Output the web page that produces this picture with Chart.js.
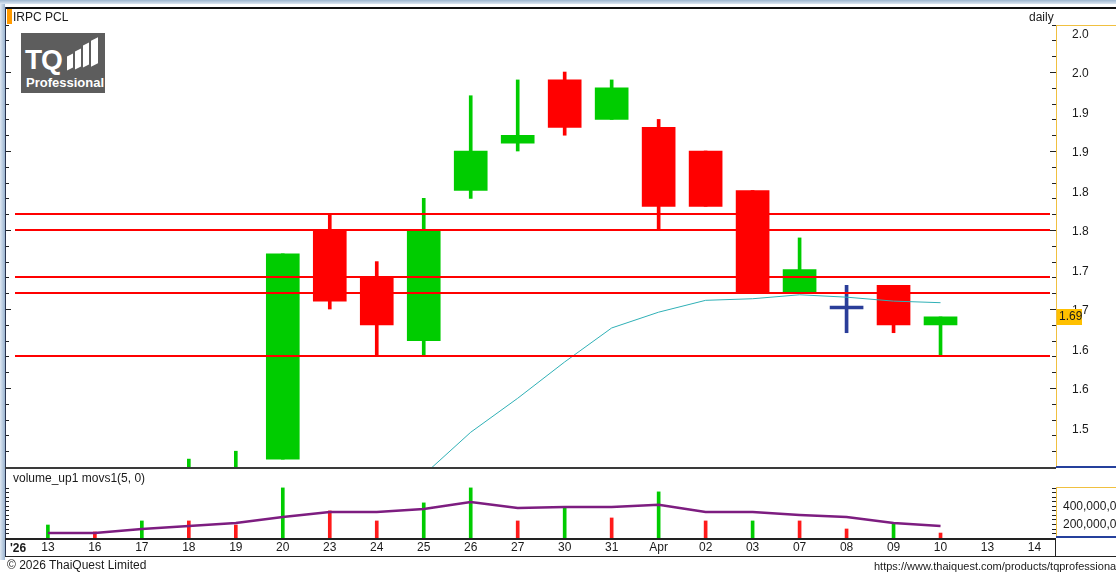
<!DOCTYPE html>
<html>
<head>
<meta charset="utf-8">
<script src="https://cdn.jsdelivr.net/npm/chart.js@4/dist/chart.umd.min.js"></script>
<style>
  body { margin: 0; width: 1116px; height: 573px; overflow: hidden; background: #fff; position: relative;
         font-family: "Liberation Sans", Arial, sans-serif; font-size: 12px; color: #1a1a1a; }
  .abs { position: absolute; }
  canvas { position: absolute; left: 0; }
  .txt { position: absolute; white-space: nowrap; line-height: 14px; }
  #logo { left: 21px; top: 33px; width: 84px; height: 60px; background: #5d5d5d; z-index: 5; }
  #logo .tq { position: absolute; left: 4px; top: 13px; font: bold 28px "Liberation Sans", Arial, sans-serif; color: #fff; letter-spacing: -1px; line-height: 28px; }
  #logo .pro { position: absolute; left: 5px; top: 43px; font: bold 13px "Liberation Sans", Arial, sans-serif; color: #fff; line-height: 14px; }
  #logo .bar { position: absolute; background: #fff; transform: skewY(-25deg); }
</style>
</head>
<body>
<canvas id="vol" width="1116" height="87" style="top:469px"></canvas>
<canvas id="price" width="1116" height="476" style="top:0"></canvas>

<!-- window frame -->
<div class="abs" style="left:0;top:0;width:1116px;height:4px;background:linear-gradient(#9db6cf,#dde7f1)"></div>
<div class="abs" style="left:0;top:4px;width:5px;height:556px;background:linear-gradient(to right,#dfe8f2,#9ab4d0)"></div>
<div class="abs" style="left:5px;top:7px;width:1111px;height:2px;background:#111"></div>
<div class="abs" style="left:5px;top:7px;width:1px;height:550px;background:#2a3550"></div>

<div class="abs" style="left:7px;top:9px;width:5px;height:15px;background:#ff9a00"></div>
<div class="txt" style="left:13px;top:10px">IRPC PCL</div>
<div class="txt" style="left:1029px;top:10px">daily</div>

<div id="logo" class="abs">
  <div class="tq">TQ</div>
  <div class="bar" style="left:46px;top:22px;width:6px;height:14px"></div>
  <div class="bar" style="left:54px;top:17px;width:6px;height:18px"></div>
  <div class="bar" style="left:62px;top:11px;width:6px;height:22px"></div>
  <div class="bar" style="left:70px;top:6px;width:7px;height:26px"></div>
  <div class="pro">Professional</div>
</div>

<!-- axis boxes and pane separators -->
<div class="abs" style="left:1056px;top:25px;width:60px;height:442px;border-left:1px solid #f0c040;border-top:1px solid #f0c040"></div>
<div class="abs" style="left:1056px;top:466px;width:60px;height:2px;background:#25409c"></div>
<div class="abs" style="left:5px;top:467px;width:1051px;height:2px;background:#3a3a3a"></div>
<div class="txt" style="left:13px;top:471px">volume_up1 movs1(5, 0)</div>
<div class="abs" style="left:1056px;top:487px;width:60px;height:50px;border-left:1px solid #f0c040;border-top:1px solid #f0c040"></div>
<div class="abs" style="left:1056px;top:536px;width:60px;height:2px;background:#25409c"></div>
<div class="abs" style="left:5px;top:538px;width:1051px;height:2px;background:#222"></div>
<div class="abs" style="left:1055px;top:538px;width:1px;height:18px;background:#222"></div>
<div class="abs" style="left:5px;top:556px;width:1111px;height:1px;background:#222"></div>
<div class="txt" style="left:10px;top:541px;font-weight:bold">'26</div>

<div class="txt" style="left:7px;top:558px">© 2026 ThaiQuest Limited</div>
<div class="txt" style="left:874px;top:559px;font-size:11px">https://www.thaiquest.com/products/tqprofessional</div>

<script>
// categories (trading days, Mar - Apr 2026)
const dates = ['13', '16', '17', '18', '19', '20', '23', '24', '25', '26', '27', '30', '31', 'Apr', '02', '03', '07', '08', '09', '10', '13', '14'];

// daily OHLC
const opens  = [1.45, 1.46, 1.45, 1.46, 1.47, 1.51, 1.80, 1.74, 1.66, 1.85, 1.91, 1.99, 1.94, 1.93, 1.90, 1.85, 1.72, 1.70, 1.73, 1.68];
const highs  = [1.47, 1.47, 1.48, 1.51, 1.52, 1.77, 1.82, 1.76, 1.84, 1.97, 1.99, 2.00, 1.99, 1.94, 1.90, 1.85, 1.79, 1.73, 1.73, 1.69];
const lows   = [1.44, 1.44, 1.45, 1.45, 1.46, 1.51, 1.70, 1.64, 1.64, 1.84, 1.90, 1.92, 1.94, 1.80, 1.83, 1.72, 1.72, 1.67, 1.67, 1.64];
const closes = [1.46, 1.45, 1.47, 1.48, 1.49, 1.77, 1.71, 1.68, 1.80, 1.90, 1.92, 1.93, 1.98, 1.83, 1.83, 1.72, 1.75, 1.70, 1.68, 1.69];

// moving average of price (cyan), starts at index 8
const maStart = 8;
const maValues = [1.49, 1.544, 1.587, 1.633, 1.676, 1.696, 1.711, 1.713, 1.718, 1.715, 1.710, 1.708];

// horizontal support / resistance lines
const levels = [1.82, 1.80, 1.74, 1.72, 1.64];

// volume (millions) and its 5-day average
const volumes = [189, 112, 234, 234, 189, 600, 345, 234, 434, 600, 234, 389, 267, 556, 234, 234, 234, 145, 200, 100];
const volUp   = [1, 0, 1, 0, 0, 1, 0, 0, 1, 1, 0, 1, 0, 1, 0, 1, 0, 0, 1, 0];
const volMa   = [100, 100, 145, 178, 212, 278, 334, 334, 367, 445, 378, 389, 389, 412, 334, 334, 301, 278, 212, 178];

// axis ticks
const priceTicks = [2.05, 2.00, 1.95, 1.90, 1.85, 1.80, 1.75, 1.70, 1.65, 1.60, 1.55];
const priceTickLabels = ['2.0', '2.0', '1.9', '1.9', '1.8', '1.8', '1.7', '1.7', '1.6', '1.6', '1.5'];
const volTicks = [200, 400];

const GREEN = '#00cc00', RED = '#ff0000', BLUE = '#2a3d99';
const XMIN = -0.7, XMAX = 21.33;

Chart.defaults.font.family = '"Liberation Sans", Arial, sans-serif';
Chart.defaults.font.size = 12;
Chart.defaults.color = '#1a1a1a';
Chart.defaults.animation = false;

const candleColors = opens.map((o, i) => closes[i] > o ? GREEN : closes[i] < o ? RED : BLUE);

const fixWidth = w => axis => { axis.width = w; };

// little tick marks on both sides of a pane
const sideTicks = (values, majorEvery) => ({
    id: 'sideTicks',
    afterDraw(chart) {
        const ctx = chart.ctx, y = chart.scales.y;
        ctx.save();
        ctx.strokeStyle = '#222';
        ctx.lineWidth = 1;
        values.forEach((v, k) => {
            const py = Math.round(y.getPixelForValue(v)) + 0.5;
            if (py < chart.chartArea.top || py > chart.chartArea.bottom) return;
            const major = majorEvery && k % majorEvery === 0;
            ctx.beginPath();
            ctx.moveTo(6, py); ctx.lineTo(major ? 11 : 9, py);
            ctx.moveTo(major ? 1050 : 1052, py); ctx.lineTo(1056, py);
            ctx.stroke();
        });
        ctx.restore();
    }
});

const priceTickMarks = [];
for (let k = 0; k <= 28; k++) priceTickMarks.push(+(1.50 + k * 0.02).toFixed(2));

const levelLines = {
    id: 'levelLines',
    afterDatasetsDraw(chart) {
        const ctx = chart.ctx, y = chart.scales.y, a = chart.chartArea;
        ctx.save();
        ctx.strokeStyle = RED;
        ctx.lineWidth = 2;
        levels.forEach(l => {
            const py = Math.round(y.getPixelForValue(l));
            ctx.beginPath();
            ctx.moveTo(a.left, py); ctx.lineTo(a.right, py);
            ctx.stroke();
        });
        ctx.restore();
    }
};

const lastPrice = {
    id: 'lastPrice',
    afterDraw(chart) {
        const ctx = chart.ctx, y = chart.scales.y;
        const last = closes[closes.length - 1];
        const py = y.getPixelForValue(last);
        ctx.save();
        ctx.fillStyle = '#ffc000';
        ctx.fillRect(1057, Math.round(py) - 8, 25, 16);
        ctx.fillStyle = '#1a1a1a';
        ctx.textBaseline = 'middle';
        ctx.fillText(last.toFixed(2), 1059, py);
        ctx.restore();
    }
};

new Chart(document.getElementById('price'), {
    type: 'bar',
    data: {
        datasets: [
            {
                type: 'line',
                data: maValues.map((v, k) => ({ x: maStart + k, y: v })),
                borderColor: '#2fb0b6',
                borderWidth: 1,
                pointRadius: 0
            },
            {
                data: opens.map((o, i) => ({ x: i, y: [o, closes[i]] })),
                backgroundColor: candleColors,
                barThickness: 33,
                minBarLength: 3,
                grouped: false
            },
            {
                data: lows.map((l, i) => ({ x: i, y: [l, highs[i]] })),
                backgroundColor: candleColors,
                barThickness: 3,
                grouped: false
            }
        ]
    },
    options: {
        responsive: false,
        layout: { padding: { left: 15, top: 24, bottom: 9, right: 0 } },
        plugins: { legend: { display: false }, tooltip: { enabled: false } },
        scales: {
            x: { type: 'linear', min: XMIN, max: XMAX, offset: false, display: false },
            y: {
                position: 'right',
                min: 1.50,
                max: 2.0608,
                grid: { display: false, drawTicks: true, tickLength: 22 },
                border: { display: false },
                afterBuildTicks: axis => { axis.ticks = priceTicks.map(v => ({ value: v })); },
                afterFit: fixWidth(66),
                ticks: {
                    padding: 0,
                    labelOffset: 2,
                    callback: (v, i) => priceTickLabels[i]
                }
            }
        }
    },
    plugins: [levelLines, lastPrice, sideTicks(priceTickMarks, 5)]
});

const volTickMarks = [];
for (let k = 1; k <= 12; k++) volTickMarks.push(k * 50);

new Chart(document.getElementById('vol'), {
    type: 'bar',
    data: {
        datasets: [
            {
                type: 'line',
                data: volMa.map((v, i) => ({ x: i, y: v })),
                borderColor: '#7d1d80',
                borderWidth: 2.5,
                pointRadius: 0
            },
            {
                data: volumes.map((v, i) => ({ x: i, y: v })),
                backgroundColor: volUp.map(u => u ? GREEN : '#ff1a1a'),
                barThickness: 3,
                grouped: false
            }
        ]
    },
    options: {
        responsive: false,
        layout: { padding: { left: 15, top: 18, bottom: 0, right: 0 } },
        plugins: { legend: { display: false }, tooltip: { enabled: false } },
        scales: {
            x: {
                type: 'linear',
                min: XMIN,
                max: XMAX,
                offset: false,
                grid: { display: false, drawTicks: false },
                border: { display: false },
                afterBuildTicks: axis => { axis.ticks = dates.map((d, i) => ({ value: i })); },
                afterFit: axis => { axis.height = 18; },
                ticks: {
                    autoSkip: false,
                    maxRotation: 0,
                    padding: 2,
                    callback: v => dates[v]
                }
            },
            y: {
                position: 'right',
                min: 45,
                max: 610,
                grid: { display: false, drawTicks: true, tickLength: 13 },
                border: { display: false },
                afterBuildTicks: axis => { axis.ticks = volTicks.map(v => ({ value: v })); },
                afterFit: fixWidth(66),
                ticks: {
                    padding: 0,
                    labelOffset: 1,
                    callback: v => (v * 1e6).toLocaleString('en-US')
                }
            }
        }
    },
    plugins: [sideTicks(volTickMarks, 0)]
});
</script>
</body>
</html>
